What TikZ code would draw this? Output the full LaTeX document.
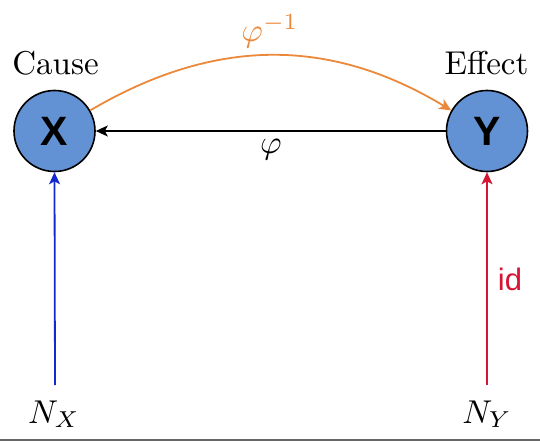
\documentclass[tikz,border=0pt]{standalone}
\usepackage{graphicx}
\usepackage{fontspec}
\newfontfamily\hvfont{Liberation Sans}
\usetikzlibrary{arrows.meta}
\definecolor{nodefill}{RGB}{98,146,212}
\definecolor{arcorange}{RGB}{236,136,58}
\definecolor{noiseblue}{RGB}{20,40,205}
\definecolor{noisered}{RGB}{212,22,52}
\newcommand{\bigtxt}[1]{\scalebox{3.3}{\normalsize #1}}
\begin{document}
\begin{tikzpicture}[x=1pt,y=-1pt,
  var/.style={circle,draw=black,line width=1.6pt,fill=nodefill,minimum size=81pt,inner sep=0pt,
    font=\hvfont\bfseries\fontsize{41}{41}\selectfont},
  lbl/.style={inner sep=0pt},
  tip/.style={-{Stealth[length=12pt,width=11pt,inset=3pt]}},
  conn/.style={line width=1.8pt,tip}]
\useasboundingbox (0,0) rectangle (540,441);
\node[var] (X) at (54.5,131) {X};
\node[var] (Y) at (487,131) {Y};
\node[lbl,anchor=base] (cause) at (55.5,74.5) {\bigtxt{Cause}};
\node[lbl,anchor=base] (effect) at (486.5,74.5) {\bigtxt{Effect}};
\node[lbl,anchor=base] (nx) at (54,423) {\bigtxt{$N_X$}};
\node[lbl,anchor=base] (ny) at (487,423) {\bigtxt{$N_Y$}};
\coordinate (nxt) at (55,385);
\coordinate (nyt) at (487,385);
\draw[conn,black] (Y.west) -- (X.east);
\node[lbl] (phi) at (271,150) {\bigtxt{$\varphi$}};
\draw[conn,arcorange] (X.30) .. controls (215,37) and (330,37) .. (Y.150);
\node[lbl,text=arcorange] (phiinv) at (270,31) {\bigtxt{$\varphi^{-1}$}};
\draw[conn,noiseblue] (nxt) -- (X.south);
\draw[conn,noisered] (nyt) -- (Y.south);
\node[lbl,text=noisered] (id) at (510,279) {\scalebox{3.1}{\hvfont\normalsize id}};
\draw[line width=1.5pt,black!60] (0,440) -- (540,440);
\end{tikzpicture}
\end{document}
